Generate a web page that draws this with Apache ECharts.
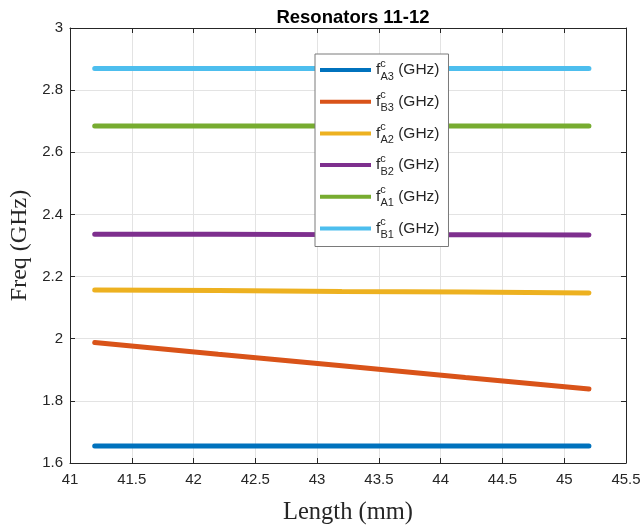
<!DOCTYPE html>
<html>
<head>
<meta charset="utf-8">
<script src="https://cdn.jsdelivr.net/npm/echarts@6/dist/echarts.min.js"></script>
<style>
  html, body { margin: 0; padding: 0; background: #fff; }
</style>
</head>
<body>
<div id="myChart" style="width:644px;height:526px;"></div>
<script>
// data
var lengths = [41.2, 42.2, 43.2, 44.2, 45.2];
var fA3 = [1.655, 1.655, 1.655, 1.655, 1.655];
var fB3 = [1.988, 1.950, 1.913, 1.875, 1.838];
var fA2 = [2.157, 2.155, 2.152, 2.150, 2.147];
var fB2 = [2.336, 2.336, 2.335, 2.335, 2.334];
var fA1 = [2.685, 2.685, 2.685, 2.685, 2.685];
var fB1 = [2.870, 2.870, 2.870, 2.870, 2.870];
var seriesNames = ['A3', 'B3', 'A2', 'B2', 'A1', 'B1'];
var seriesData = [fA3, fB3, fA2, fB2, fA1, fB1];
var colors = ['#0072BD', '#D95319', '#EDB120', '#7E2F8E', '#77AC30', '#4DBEEE'];

var myChart = echarts.init(document.getElementById('myChart'));

var sans = 'Liberation Sans';
var serif = 'Liberation Serif';

function pairs(ys) {
  return lengths.map(function (x, i) { return [x, ys[i]]; });
}

var series = seriesNames.map(function (n, i) {
  return {
    name: n,
    type: 'line',
    data: pairs(seriesData[i]),
    symbol: 'none',
    color: colors[i],
    lineStyle: { width: 5, cap: 'round' },
    xAxisIndex: 0,
    yAxisIndex: 0
  };
});

// 框右侧和上方的刻度轴
var sideAxis = {
  type: 'value',
  axisLine: { show: true, lineStyle: { color: '#262626', width: 1 } },
  axisTick: { show: true, inside: true, length: 5, lineStyle: { color: '#262626' } },
  axisLabel: { show: false },
  splitLine: { show: false }
};

var option = {
  animation: false,
  backgroundColor: '#fff',
  title: {
    text: 'Resonators 11-12',
    left: 348,
    textAlign: 'center',
    top: 3,
    textStyle: { fontFamily: sans, fontSize: 18.5, fontWeight: 'bold', color: '#000' }
  },
  grid: { left: 70, right: 18, top: 28, bottom: 63, outerBoundsMode: 'none', containLabel: false },
  legend: {
    orient: 'vertical',
    left: 315,
    top: 54,
    padding: [4, 9, 6, 5],
    itemGap: 7.7,
    itemWidth: 51,
    itemHeight: 4,
    icon: 'rect',
    backgroundColor: '#fff',
    borderColor: '#7a7a7a',
    borderWidth: 1,
    borderRadius: 0,
    data: seriesNames,
    formatter: function (n) {
      return '{f|f}{c|c}{s|' + n + '}{t| (GHz)}';
    },
    textStyle: {
      fontFamily: sans,
      color: '#262626',
      rich: {
        f: { fontSize: 15.5, fontFamily: sans, color: '#262626', lineHeight: 24, verticalAlign: 'middle' },
        c: { fontSize: 11, fontFamily: sans, color: '#262626', width: 0.1, verticalAlign: 'top', lineHeight: 11 },
        s: { fontSize: 11, fontFamily: sans, color: '#262626', verticalAlign: 'bottom', lineHeight: 11 },
        t: { fontSize: 15.5, fontFamily: sans, color: '#262626', lineHeight: 24, verticalAlign: 'middle' }
      }
    }
  },
  xAxis: [{
    type: 'value',
    min: 41,
    max: 45.5,
    interval: 0.5,
    name: 'Length (mm)',
    nameLocation: 'middle',
    nameGap: 37,
    nameTextStyle: { fontFamily: serif, fontSize: 24.5, color: '#262626' },
    axisLine: { show: true, onZero: false, lineStyle: { color: '#262626', width: 1 } },
    axisTick: { show: true, inside: true, length: 5, lineStyle: { color: '#262626' } },
    axisLabel: { fontFamily: sans, fontSize: 15, color: '#262626', margin: 9, showMinLabel: true, showMaxLabel: true },
    splitLine: { show: true, lineStyle: { color: '#e3e3e3', width: 1 } }
  }, Object.assign({}, sideAxis, {
    position: 'top', min: 41, max: 45.5, interval: 0.5
  })],
  yAxis: [{
    type: 'value',
    min: 1.6,
    max: 3,
    interval: 0.2,
    name: 'Freq (GHz)',
    nameLocation: 'middle',
    nameGap: 34,
    nameTextStyle: { fontFamily: serif, fontSize: 24, color: '#262626' },
    axisLine: { show: true, onZero: false, lineStyle: { color: '#262626', width: 1 } },
    axisTick: { show: true, inside: true, length: 5, lineStyle: { color: '#262626' } },
    axisLabel: { fontFamily: sans, fontSize: 15, color: '#262626', margin: 7, showMinLabel: true, showMaxLabel: true },
    splitLine: { show: true, lineStyle: { color: '#e3e3e3', width: 1 } }
  }, Object.assign({}, sideAxis, {
    position: 'right', min: 1.6, max: 3, interval: 0.2
  })],
  series: series
};

myChart.setOption(option);
</script>
</body>
</html>
